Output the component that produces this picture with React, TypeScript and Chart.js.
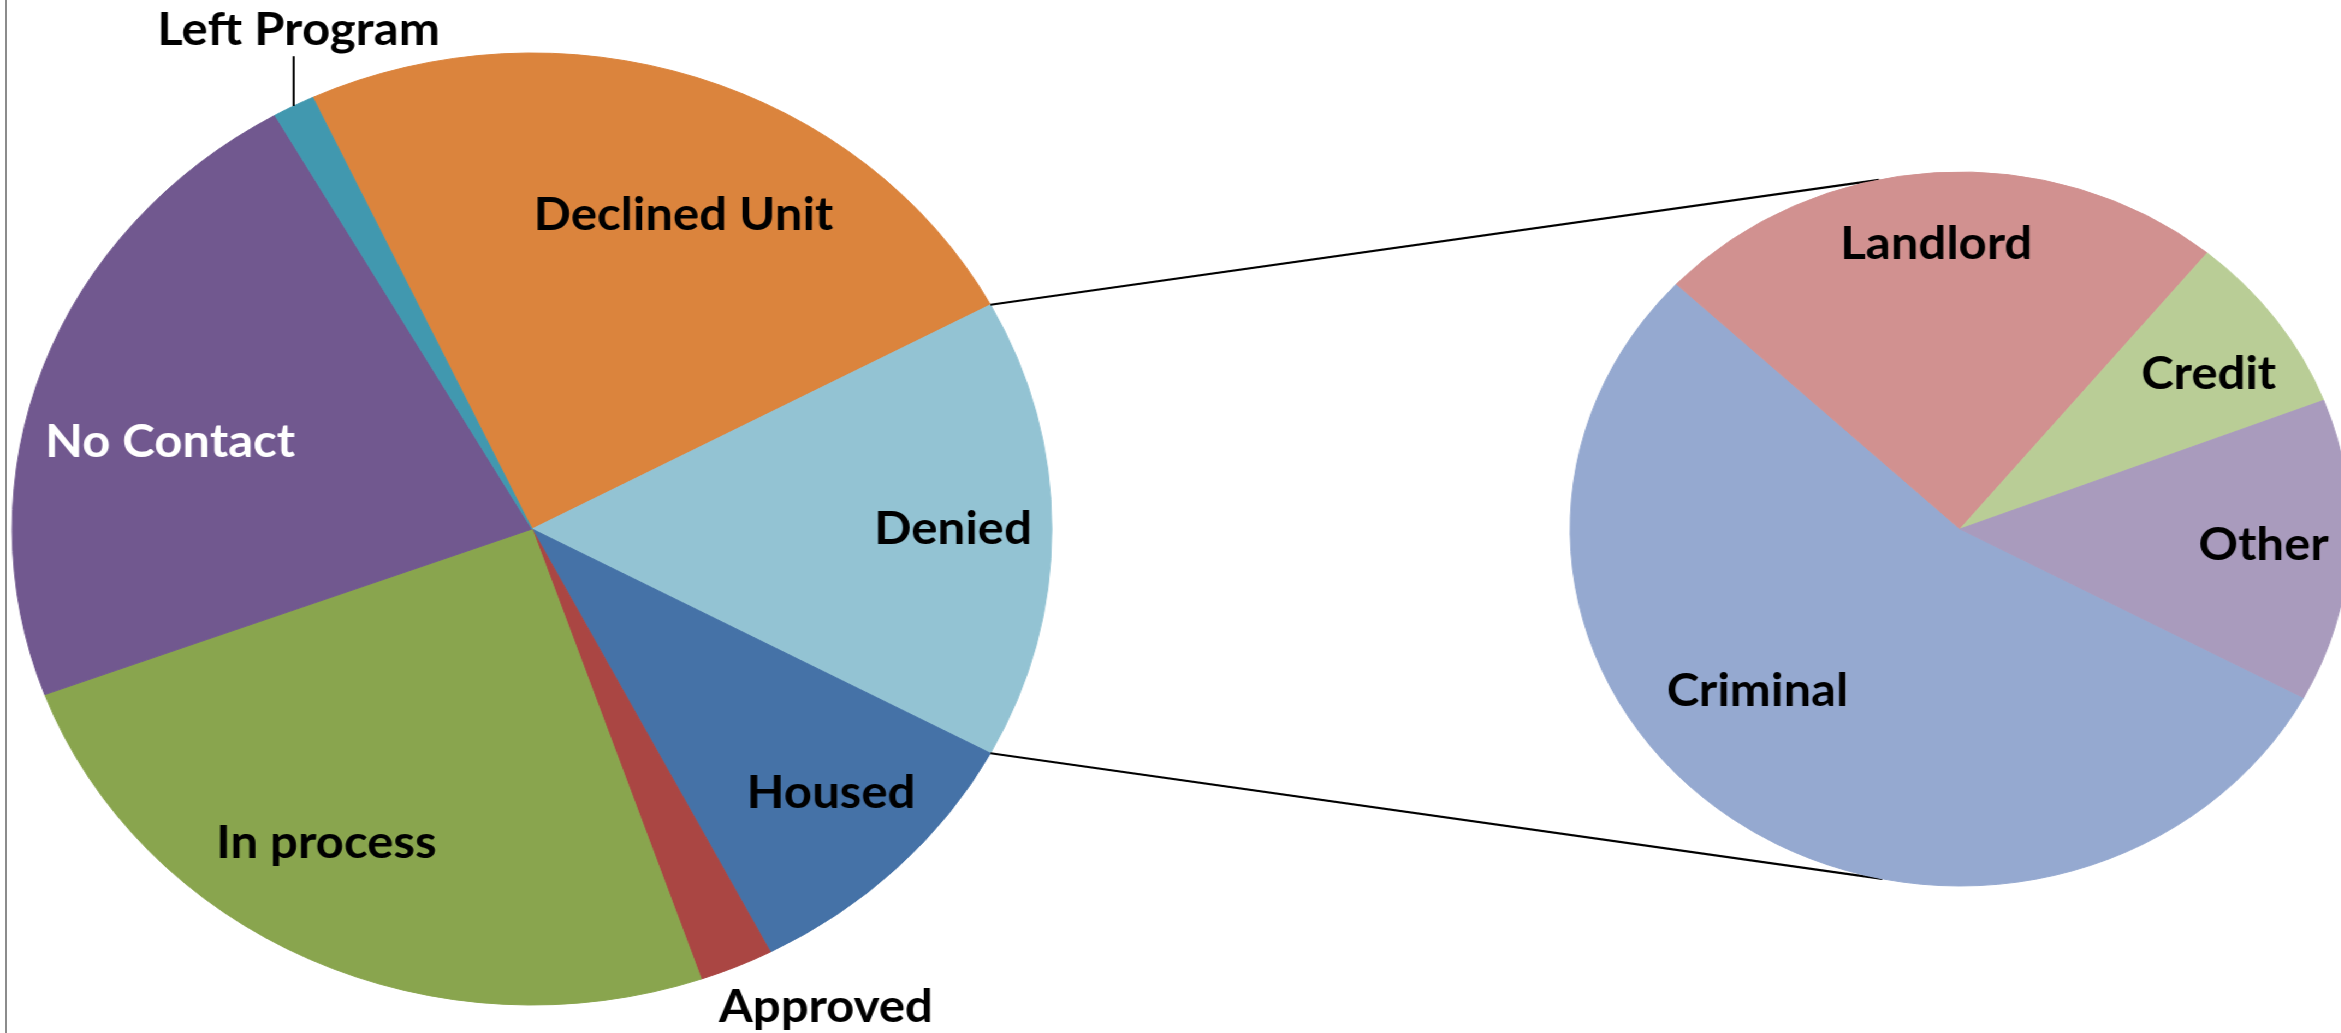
import React, { useEffect, useRef } from "react";
import { Chart, registerables } from "chart.js";

Chart.register(...registerables);

// ---- data ----
const mainLabels = ["Declined Unit", "Denied", "Housed", "Approved", "In process", "No Contact", "Left Program"];
const mainValues = [24.1, 15.6, 9.6, 2.3, 24.6, 22.4, 1.3];
const aggregateLabel = "Denied";

const subLabels = ["Criminal", "Landlord", "Credit", "Other"];
const subValues = [54.2, 23.9, 8.2, 13.7];

// ---- styles ----
const mainColors = ["#DB843D", "#93C3D3", "#4572A7", "#AA4643", "#89A54E", "#71588F", "#4198AF"];
const mainTextColors = ["#000", "#000", "#000", "#000", "#000", "#fff", "#000"];
const subColors = ["#95A9D0", "#D19190", "#B9CD96", "#A99BBD"];
const subTextColors = ["#000", "#000", "#000", "#000"];

// label placement: r = fraction of radius, d = angle shift (deg) from slice middle
const mainLabelPos = [
  { r: 0.72, d: 5.4 },
  { r: 0.81, d: 0 },
  { r: 0.8, d: -1.4 },
  { r: 1.153, d: -6.2 },
  { r: 0.77, d: 5.6 },
  { r: 0.72, d: -5.3 },
  { r: 1.14, d: 4.1, leader: true },
];
const subLabelPos = [
  { r: 0.69, d: 13.1 },
  { r: 0.8, d: -0.7 },
  { r: 0.77, d: 1.8 },
  { r: 0.78, d: -0.2 },
];

const SX = 1.092;
const W = 2160;
const H = 1033;
const MAIN_GEOM = { cx: 487.2, cy: 529, r: 476 };
const SUB_GEOM = { cx: 1794.9, cy: 529, r: 357 };
const SUB_ROTATION = 118.2;
const CONNECTOR_ANGLES = [348, 191.5];
const FONT = 'bold 45px Lato, "Open Sans", sans-serif';

function labelPlugin(labels: string[], pos: any[], textColors: string[]) {
  return {
    id: "sliceLabels",
    afterDatasetsDraw(chart: any) {
      const ctx = chart.ctx;
      const meta = chart.getDatasetMeta(0);
      ctx.save();
      ctx.font = FONT;
      ctx.textAlign = "center";
      ctx.textBaseline = "middle";
      meta.data.forEach((arc: any, i: number) => {
        const p = arc.getProps(["x", "y", "startAngle", "endAngle", "outerRadius"], true);
        const amid = (p.startAngle + p.endAngle) / 2;
        const a = amid + (pos[i].d * Math.PI) / 180;
        const rr = p.outerRadius * pos[i].r;
        const lx = p.x + rr * Math.cos(a);
        const ly = p.y + rr * Math.sin(a);
        if (pos[i].leader) {
          const ex = p.x + p.outerRadius * Math.cos(amid);
          const ey = p.y + p.outerRadius * Math.sin(amid);
          ctx.beginPath();
          ctx.strokeStyle = "#000";
          ctx.lineWidth = 2;
          ctx.moveTo(ex, ey);
          ctx.lineTo(ex, ly + 26);
          ctx.stroke();
        }
        ctx.fillStyle = textColors[i];
        ctx.fillText(labels[i], lx, ly);
      });
      ctx.restore();
    },
  };
}

function pieOptions(geom: { cx: number; cy: number; r: number }, rotation: number) {
  return {
    responsive: false,
    animation: false as const,
    rotation,
    layout: {
      padding: {
        left: geom.cx - geom.r,
        right: W - (geom.cx + geom.r),
        top: geom.cy - geom.r,
        bottom: H - (geom.cy + geom.r),
      },
    },
    plugins: { legend: { display: false }, tooltip: { enabled: false }, title: { display: false } },
    events: [],
  };
}

export default function App() {
  const mainRef = useRef<HTMLCanvasElement>(null);
  const subRef = useRef<HTMLCanvasElement>(null);

  useEffect(() => {
    const total = mainValues.reduce((a, b) => a + b, 0);
    const aggIdx = mainLabels.indexOf(aggregateLabel);
    const before = mainValues.slice(0, aggIdx).reduce((a, b) => a + b, 0);
    const mainRotation = 90 - ((before + mainValues[aggIdx] / 2) / total) * 360;

    const mainChart = new Chart(mainRef.current!, {
      type: "pie",
      data: {
        labels: mainLabels,
        datasets: [
          {
            data: mainValues,
            backgroundColor: mainColors,
            borderColor: mainColors,
            borderWidth: 1,
            radius: MAIN_GEOM.r,
          } as any,
        ],
      },
      options: pieOptions(MAIN_GEOM, mainRotation) as any,
      plugins: [labelPlugin(mainLabels, mainLabelPos, mainTextColors)],
    });

    const connectorPlugin = {
      id: "connectors",
      beforeDatasetsDraw(chart: any) {
        const ctx = chart.ctx;
        const arc: any = mainChart.getDatasetMeta(0).data[aggIdx];
        const p = arc.getProps(["x", "y", "startAngle", "endAngle", "outerRadius"], true);
        const subArc: any = chart.getDatasetMeta(0).data[0];
        const s = subArc.getProps(["x", "y", "outerRadius"], true);
        const starts = [p.startAngle, p.endAngle];
        ctx.save();
        ctx.strokeStyle = "#000";
        ctx.lineWidth = 2.2;
        starts.forEach((sa: number, k: number) => {
          const ta = ((CONNECTOR_ANGLES[k] - 90) * Math.PI) / 180;
          ctx.beginPath();
          ctx.moveTo(p.x + p.outerRadius * Math.cos(sa), p.y + p.outerRadius * Math.sin(sa));
          ctx.lineTo(s.x + s.outerRadius * Math.cos(ta), s.y + s.outerRadius * Math.sin(ta));
          ctx.stroke();
        });
        ctx.restore();
      },
    };

    const subChart = new Chart(subRef.current!, {
      type: "pie",
      data: {
        labels: subLabels,
        datasets: [
          {
            data: subValues,
            backgroundColor: subColors,
            borderColor: subColors,
            borderWidth: 1,
            radius: SUB_GEOM.r,
          } as any,
        ],
      },
      options: pieOptions(SUB_GEOM, SUB_ROTATION) as any,
      plugins: [connectorPlugin, labelPlugin(subLabels, subLabelPos, subTextColors)],
    });

    return () => {
      subChart.destroy();
      mainChart.destroy();
    };
  }, []);

  return (
    <div
      style={{
        position: "absolute",
        left: 0,
        top: 0,
        width: 2341,
        height: 1033,
        overflow: "hidden",
        background: "#fff",
      }}
    >
      <div
        style={{
          position: "absolute",
          left: 0,
          top: 0,
          width: W,
          height: H,
          transform: `scaleX(${SX})`,
          transformOrigin: "0 0",
        }}
      >
        <canvas
          ref={mainRef}
          width={W}
          height={H}
          style={{ position: "absolute", left: 0, top: 0, width: W, height: H }}
        />
        <canvas
          ref={subRef}
          width={W}
          height={H}
          style={{ position: "absolute", left: 0, top: 0, width: W, height: H }}
        />
      </div>
      <div style={{ position: "absolute", left: 5, top: 0, width: 2, height: 1033, background: "#8c8c8c" }} />
    </div>
  );
}
